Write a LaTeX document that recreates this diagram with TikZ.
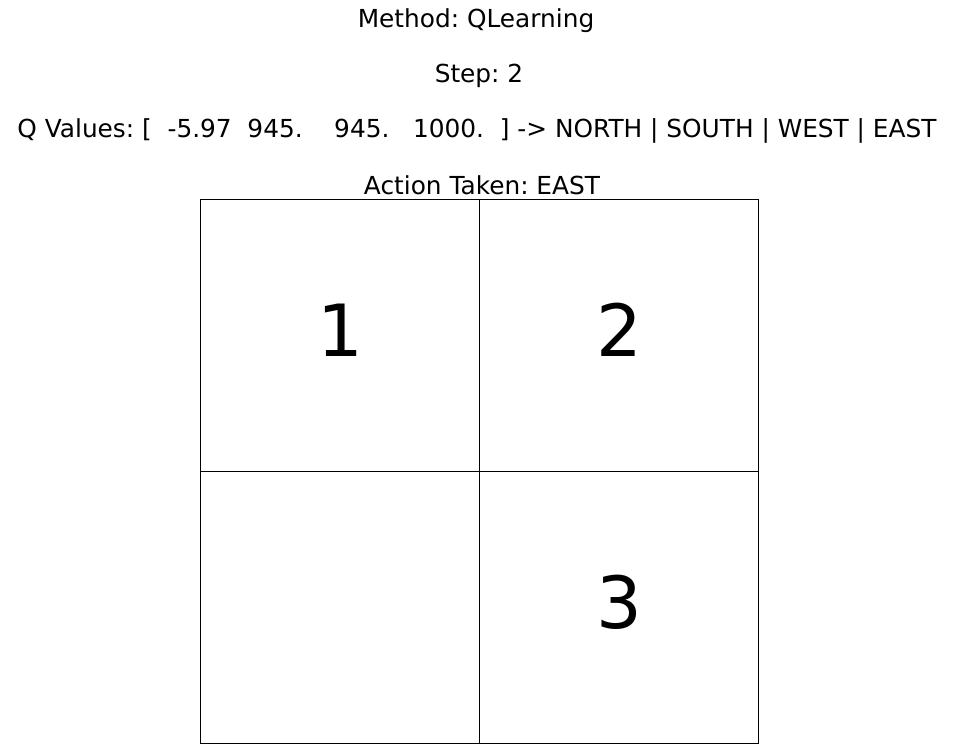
\documentclass[tikz,border=0pt]{standalone}
\usepackage{fontspec}
\setmainfont{DejaVu Sans}
\usepackage{tikz}
\usetikzlibrary{positioning}
\frenchspacing
\tikzstyle{titleline} = [anchor=base, inner sep=0pt, font=\fontsize{24.8}{28}\selectfont]
\tikzstyle{cellnum} = [anchor=center, inner sep=0pt, font=\fontsize{72}{80}\selectfont]
\tikzstyle{gridline} = [line width=0.8pt, draw=black]

\begin{document}
\begin{tikzpicture}[x=1pt, y=-1pt]
        \useasboundingbox (0,0) rectangle (958,750);
        % title lines
        \node (method) [titleline] at (476,27) {Method: QLearning};
        \node (step) [titleline] at (479,82) {Step: 2};
        \node (qvals) [titleline] at (477,137) {Q Values: [\ \ -5.97\ \ 945.\ \ \ \ 945.\ \ \ 1000.\ \ ] -> NORTH | SOUTH | WEST | EAST};
        \node (action) [titleline] at (482,194) {Action Taken: EAST};
        % grid
        \draw [gridline] (200,199) rectangle (758,743);
        \draw [gridline] (479,199) -- (479,743);
        \draw [gridline] (200,471) -- (758,471);
        % cell numbers
        \node (one) [cellnum] at (340,330) {1};
        \node (two) [cellnum] at (619,330) {2};
        \node (three) [cellnum] at (619,602) {3};
    \end{tikzpicture}
\end{document}
